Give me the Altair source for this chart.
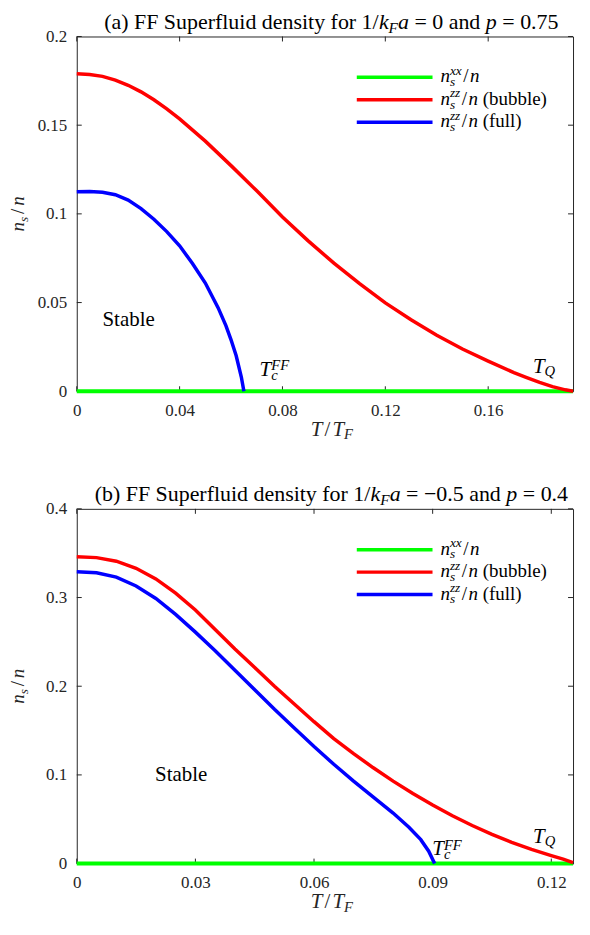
import altair as alt
import pandas as pd

# ---------------- data ----------------
# Panel (a): 1/k_F a = 0, p = 0.75
A_T_BUBBLE = [0.0, 0.005, 0.01, 0.015, 0.02, 0.025, 0.03, 0.035, 0.04, 0.05, 0.06, 0.07, 0.08,
              0.09, 0.10, 0.11, 0.12, 0.13, 0.14, 0.15, 0.16, 0.17, 0.175, 0.18, 0.185, 0.19, 0.193]
A_NS_BUBBLE = [0.1790, 0.1786, 0.1775, 0.1754, 0.1725, 0.1688, 0.1643, 0.1592, 0.1535, 0.1410,
               0.1272, 0.1130, 0.0982, 0.0848, 0.0722, 0.0607, 0.0498, 0.0403, 0.0316, 0.0238,
               0.0170, 0.0105, 0.0077, 0.0050, 0.0026, 0.0008, 0.0]
A_T_FULL = [0.0, 0.005, 0.01, 0.015, 0.02, 0.025, 0.03, 0.035, 0.04, 0.045, 0.05, 0.055, 0.058,
            0.06, 0.062, 0.064, 0.065]
A_NS_FULL = [0.1125, 0.1126, 0.1122, 0.1108, 0.1078, 0.1030, 0.0970, 0.0900, 0.0820, 0.0720,
             0.0610, 0.0470, 0.0370, 0.0290, 0.0200, 0.0080, 0.0]
A_T_XX = [0.0, 0.05, 0.10, 0.15, 0.193]
A_NS_XX = [0.0, 0.0, 0.0, 0.0, 0.0]
A_XMAX = 0.193
A_YMAX = 0.2
A_XTICKS = [0, 0.04, 0.08, 0.12, 0.16]
A_YTICKS = [0, 0.05, 0.1, 0.15, 0.2]
# annotation anchors (T, n_s) for "Stable", T_c^FF, T_Q
A_ANN = [(0.010, 0.037), (0.0711, 0.0087), (0.1774, 0.0104)]

# Panel (b): 1/k_F a = -0.5, p = 0.4
B_T_BUBBLE = [0.0, 0.005, 0.01, 0.015, 0.02, 0.025, 0.03, 0.035, 0.04, 0.045, 0.05, 0.055, 0.06,
              0.065, 0.07, 0.075, 0.08, 0.085, 0.09, 0.095, 0.10, 0.105, 0.11, 0.115, 0.12,
              0.123, 0.1255]
B_NS_BUBBLE = [0.346, 0.345, 0.341, 0.333, 0.321, 0.305, 0.286, 0.264, 0.242, 0.221, 0.200, 0.180,
               0.160, 0.141, 0.124, 0.108, 0.093, 0.079, 0.066, 0.054, 0.043, 0.033, 0.024,
               0.016, 0.009, 0.005, 0.001]
B_T_FULL = [0.0, 0.005, 0.01, 0.015, 0.02, 0.025, 0.03, 0.035, 0.04, 0.045, 0.05, 0.055, 0.06,
            0.065, 0.07, 0.075, 0.08, 0.084, 0.087, 0.089, 0.0905]
B_NS_FULL = [0.329, 0.328, 0.323, 0.313, 0.299, 0.281, 0.261, 0.240, 0.218, 0.196, 0.174, 0.153,
             0.132, 0.112, 0.093, 0.075, 0.057, 0.041, 0.027, 0.014, 0.0]
B_T_XX = [0.0, 0.04, 0.08, 0.12, 0.1255]
B_NS_XX = [0.0, 0.0, 0.0, 0.0, 0.0]
B_XMAX = 0.1255
B_YMAX = 0.4
B_XTICKS = [0, 0.03, 0.06, 0.09, 0.12]
B_YTICKS = [0, 0.1, 0.2, 0.3, 0.4]
B_ANN = [(0.0198, 0.0936), (0.0899, 0.0094), (0.1154, 0.0236)]

SERIES_COLORS = ["#00ff00", "#ff0000", "#0000ff"]

# ---------------- styling / layout helpers ----------------
FONT = "Liberation Serif"
W, H = 498, 356
LEFT_EXT = 68          # room left of the plot for tick labels / y title
TOP_EXT = 25           # room above the plot for the title
BOT_EXT = 52           # room below the plot for tick labels / x title
GAP = 38
AXC = "#262626"
ONE = pd.DataFrame({"k": [0]})

R_W = {' ': 250, '(': 333, ')': 333, '/': 278, '.': 250, '=': 564, '\u2212': 564,
       '0': 500, '1': 500, '2': 500, '3': 500, '4': 500, '5': 500, '6': 500, '7': 500,
       '8': 500, '9': 500, 'a': 444, 'b': 500, 'c': 444, 'd': 500, 'e': 444, 'f': 333,
       'i': 278, 'l': 278, 'n': 500, 'o': 500, 'p': 500, 'r': 333, 's': 389, 't': 278,
       'u': 500, 'y': 500, 'F': 556, 'S': 556, 'T': 611, 'Q': 722, 'k': 500, 'x': 500, 'z': 444}
I_W = {'a': 500, 'c': 444, 'k': 444, 'n': 500, 'p': 500, 's': 389, 'x': 444, 'z': 389,
       'F': 611, 'T': 556, 'Q': 722}


def tw(s, italic):
    d = I_W if italic else R_W
    return sum(d.get(ch, 500) for ch in s) / 1000.0


def rich_items(pieces, size, anchor="start", sub_dy=0.2, sup_dy=0.4, ss=0.7):
    """Return (text, along, across, size, italic) where along/across are offsets of the
    piece's alphabetic baseline start from the reference point."""
    items = []
    pos = 0.0
    for kind, txt in pieces:
        if kind in ("r", "i"):
            it = kind == "i"
            lead = len(txt) - len(txt.lstrip(" "))
            pos += lead * 0.25 * size
            core = txt.lstrip(" ")
            items.append((core, pos, 0.0, size, it))
            pos += tw(core, it) * size
        elif kind == "sub":
            s = ss * size
            items.append((txt, pos, sub_dy * size, s, True))
            pos += tw(txt, True) * s
        elif kind == "sup":
            s = ss * size
            items.append((txt, pos, -sup_dy * size, s, True))
            pos += tw(txt, True) * s
        elif kind == "subsup":
            sb, sp = txt
            s = ss * size
            items.append((sb, pos, sub_dy * size, s, True))
            items.append((sp, pos, -sup_dy * size, s, True))
            pos += max(tw(sb, True), tw(sp, True)) * s
        elif kind == "gap":
            pos += txt * size
    start = -pos / 2.0 if anchor == "middle" else 0.0
    return [(c, start + p, d, s, it) for c, p, d, s, it in items if c]


def _mark(core, s, it, color, angle=0, dx=0, dy=0):
    return alt.Chart(ONE).mark_text(
        text=core, font=FONT, fontSize=round(s, 2), fontStyle="italic" if it else "normal",
        align="left", baseline="top", angle=angle, color=color,
        dx=round(dx, 2), dy=round(dy, 2))


def rich_px(pieces, x, y, size, anchor="start", angle=0, color="black", **kw):
    layers = []
    for core, a, d, s, it in rich_items(pieces, size, anchor, **kw):
        off = round(0.79 * s)
        if angle == 0:
            px, py = x + a, y + d - off
        else:  # 270: text runs upward, glyph 'down' points to +x
            px, py = x + d - off, y - a
        layers.append(_mark(core, s, it, color, angle)
                      .encode(x=alt.value(round(px, 2)), y=alt.value(round(py, 2))))
    return layers


def rich_data(pieces, t, v, xs, ys, xaxis, yaxis, size, color="black", **kw):
    layers = []
    for core, a, d, s, it in rich_items(pieces, size, **kw):
        off = round(0.79 * s)
        layers.append(_mark(core, s, it, color, dx=a, dy=d - off).encode(
            x=alt.XDatum(t, type="quantitative", scale=xs, axis=xaxis),
            y=alt.YDatum(v, type="quantitative", scale=ys, axis=yaxis)))
    return layers


def panel(title_pieces, xx, bub, full, xmax, ymax, xticks, yticks, ann):
    xs = alt.Scale(domain=[0, xmax], nice=False, zero=False)
    ys = alt.Scale(domain=[0, ymax], nice=False, zero=False)
    xaxis = alt.Axis(values=xticks, format="~g", ticks=False, domain=False, grid=False,
                     labelFont=FONT, labelFontSize=17, labelColor=AXC, labelPadding=11,
                     labelFlush=False, title=None)
    yaxis = alt.Axis(values=yticks, format="~g", ticks=False, domain=False, grid=False,
                     labelFont=FONT, labelFontSize=17, labelColor=AXC, labelPadding=10,
                     labelFlush=False, title=None)
    X = lambda f: alt.X(f, type="quantitative", scale=xs, axis=xaxis)
    Y = lambda f: alt.Y(f, type="quantitative", scale=ys, axis=yaxis)

    dxt = pd.DataFrame({"v": xticks})
    dyt = pd.DataFrame({"v": yticks})
    tick_kw = dict(color=AXC, strokeWidth=1)
    layers = [
        alt.Chart(dxt).mark_rule(**tick_kw).encode(x=X("v"), y=alt.value(H), y2=alt.value(H - 5)),
        alt.Chart(dxt).mark_rule(**tick_kw).encode(x=X("v"), y=alt.value(0), y2=alt.value(5)),
        alt.Chart(dyt).mark_rule(**tick_kw).encode(y=Y("v"), x=alt.value(0), x2=alt.value(5)),
        alt.Chart(dyt).mark_rule(**tick_kw).encode(y=Y("v"), x=alt.value(W - 5), x2=alt.value(W)),
    ]
    widths = [4, 3.5, 3.5]
    for (T, ns), c, sw in zip([xx, bub, full], SERIES_COLORS, widths):
        df = pd.DataFrame({"T": T, "ns": ns})
        layers.append(alt.Chart(df).mark_line(color=c, strokeWidth=sw, strokeCap="butt")
                      .encode(x=X("T"), y=Y("ns")))

    # legend (custom, so that sub/superscripts can be drawn)
    leg_y = [41, 63.5, 86]
    leg_labels = [
        [("i", "n"), ("subsup", ("s", "xx")), ("gap", 0.08), ("r", "/"), ("gap", 0.08), ("i", "n")],
        [("i", "n"), ("subsup", ("s", "zz")), ("gap", 0.08), ("r", "/"), ("gap", 0.08), ("i", "n"),
         ("r", " (bubble)")],
        [("i", "n"), ("subsup", ("s", "zz")), ("gap", 0.08), ("r", "/"), ("gap", 0.08), ("i", "n"),
         ("r", " (full)")],
    ]
    for ly, c, lab in zip(leg_y, SERIES_COLORS, leg_labels):
        layers.append(alt.Chart(ONE).mark_rule(color=c, strokeWidth=3.5)
                      .encode(x=alt.value(281), x2=alt.value(357), y=alt.value(ly)))
        layers += rich_px(lab, 365, ly + 5, 19)

    # title and axis titles
    layers += rich_px(title_pieces, 255.5, -8, 22, anchor="middle")
    layers += rich_px([("i", "T"), ("gap", 0.1), ("r", "/"), ("gap", 0.1), ("i", "T"), ("sub", "F")],
                      256, H + 45, 21, anchor="middle", color=AXC, sub_dy=0.15)
    layers += rich_px([("i", "n"), ("sub", "s"), ("gap", 0.15), ("r", "/"), ("gap", 0.15), ("i", "n")],
                      -52.5, H / 2, 19, anchor="middle", angle=270, color=AXC)
    # annotations, anchored in data coordinates
    (s_t, s_v), (c_t, c_v), (q_t, q_v) = ann
    layers += rich_data([("r", "Stable")], s_t, s_v, xs, ys, xaxis, yaxis, 21)
    layers += rich_data([("i", "T"), ("subsup", ("c", "FF"))], c_t, c_v, xs, ys, xaxis, yaxis, 21,
                        sup_dy=0.26)
    layers += rich_data([("i", "T"), ("sub", "Q")], q_t, q_v, xs, ys, xaxis, yaxis, 21, sub_dy=0.15)

    # invisible anchor that fixes the panel's bounds
    layers.append(alt.Chart(ONE).mark_rule(opacity=0, strokeWidth=0)
                  .encode(x=alt.value(-LEFT_EXT), x2=alt.value(-LEFT_EXT), y=alt.value(-TOP_EXT),
                          y2=alt.value(H + BOT_EXT)))
    return alt.layer(*layers).properties(width=W, height=H)


title_a = [("r", "(a) FF Superfluid density for 1/"), ("i", "k"), ("sub", "F"), ("i", "a"),
           ("r", " = 0 and "), ("i", "p"), ("r", " = 0.75")]
title_b = [("r", "(b) FF Superfluid density for 1/"), ("i", "k"), ("sub", "F"), ("i", "a"),
           ("r", " = \u22120.5 and "), ("i", "p"), ("r", " = 0.4")]

pa = panel(title_a, (A_T_XX, A_NS_XX), (A_T_BUBBLE, A_NS_BUBBLE), (A_T_FULL, A_NS_FULL),
           A_XMAX, A_YMAX, A_XTICKS, A_YTICKS, A_ANN)
pb = panel(title_b, (B_T_XX, B_NS_XX), (B_T_BUBBLE, B_NS_BUBBLE), (B_T_FULL, B_NS_FULL),
           B_XMAX, B_YMAX, B_XTICKS, B_YTICKS, B_ANN)

chart = (
    alt.vconcat(pa, pb, spacing=GAP)
    .properties(padding=0, background="white")
    .configure_view(stroke=AXC, strokeWidth=1)
)

chart.save("out.html", embed_options={"renderer": "svg", "actions": False})
